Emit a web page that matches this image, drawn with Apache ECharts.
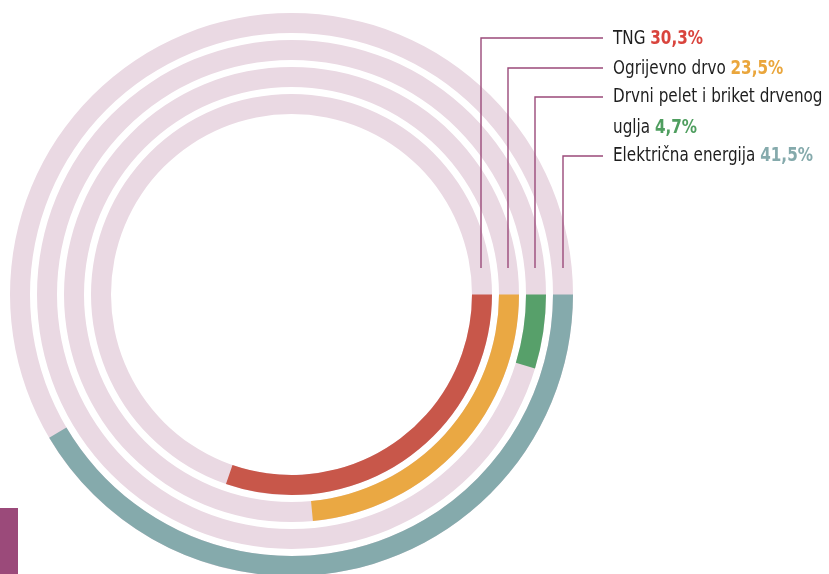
<!DOCTYPE html>
<html>
<head>
<meta charset="utf-8">
<script src="https://cdn.jsdelivr.net/npm/echarts@6/dist/echarts.min.js"></script>
<style>
  html, body { margin: 0; padding: 0; background: #ffffff; }
  #chart { width: 829px; height: 574px; }
</style>
</head>
<body>
<div id="chart"></div>
<script>
// Shares of heating energy sources, innermost ring first
const categories = ['TNG', 'Ogrijevno drvo', 'Drvni pelet i briket drvenog uglja', 'Električna energija'];
const shares = [30.3, 23.5, 4.7, 41.5];
const shareLabels = ['30,3%', '23,5%', '4,7%', '41,5%'];
const ringColors = ['#c8574a', '#eaa843', '#57a06a', '#85aaac'];
const valueColors = ['#d9443d', '#eaa63c', '#4f9e5f', '#85aaac'];

const chart = echarts.init(document.getElementById('chart'), null, { renderer: 'canvas' });

const cx = 291.5, cy = 294.5;
const leaderColor = '#9b4a7a';
const font = '"Liberation Sans Narrow", "DejaVu Sans Condensed", sans-serif';
const fontSize = 19;

// Leader lines: vertical from each ring up to its label row
const leaderX = [481, 508, 535, 563];
const leaderY = [38, 68, 97, 156];
const graphics = [];
leaderX.forEach((x, i) => {
  graphics.push({
    type: 'polyline',
    z: 20,
    shape: { points: [[x, 268], [x, leaderY[i]], [603, leaderY[i]]] },
    style: { stroke: leaderColor, lineWidth: 1.4, fill: null },
    silent: true
  });
});

// Label rows (two rows for the long pellet label)
const rows = [
  { y: 39, parts: [[categories[0] + ' ', null], [shareLabels[0], 0]] },
  { y: 69, parts: [[categories[1] + ' ', null], [shareLabels[1], 1]] },
  { y: 97, parts: [['Drvni pelet i briket drvenog', null]] },
  { y: 128, parts: [['uglja ', null], [shareLabels[2], 2]] },
  { y: 156.5, parts: [[categories[3] + ' ', null], [shareLabels[3], 3]] }
];
const richStyles = { n: { fontFamily: font, fontSize: fontSize, fill: '#1e1e1e' } };
valueColors.forEach((c, i) => {
  richStyles['v' + i] = { fontFamily: font, fontSize: fontSize, fontWeight: 'bold', fill: c };
});
rows.forEach(row => {
  let rich = '';
  row.parts.forEach(([t, ci]) => {
    rich += ci === null ? '{n|' + t + '}' : '{v' + ci + '|' + t + '}';
  });
  graphics.push({
    type: 'text',
    z: 20,
    x: 613,
    y: row.y,
    scaleX: 0.89,
    style: {
      text: rich, rich: richStyles,
      font: fontSize + 'px ' + font,
      verticalAlign: 'middle', align: 'left'
    },
    silent: true
  });
});

// Corner marker
graphics.push({
  type: 'rect',
  shape: { x: 0, y: 508, width: 18, height: 66 },
  style: { fill: '#9b4a7a' },
  silent: true
});

chart.setOption({
  animation: false,
  polar: { center: [cx, cy], radius: [177, 285] },
  angleAxis: {
    type: 'value', min: 0, max: 100, startAngle: 0, clockwise: true,
    show: false
  },
  radiusAxis: {
    type: 'category', data: categories, show: false
  },
  series: [{
    type: 'bar',
    coordinateSystem: 'polar',
    barWidth: 20,
    showBackground: true,
    backgroundStyle: { color: '#ead9e3' },
    data: shares.map((v, i) => ({ value: v, itemStyle: { color: ringColors[i] } })),
    silent: true
  }],
  graphic: graphics
});
</script>
</body>
</html>
